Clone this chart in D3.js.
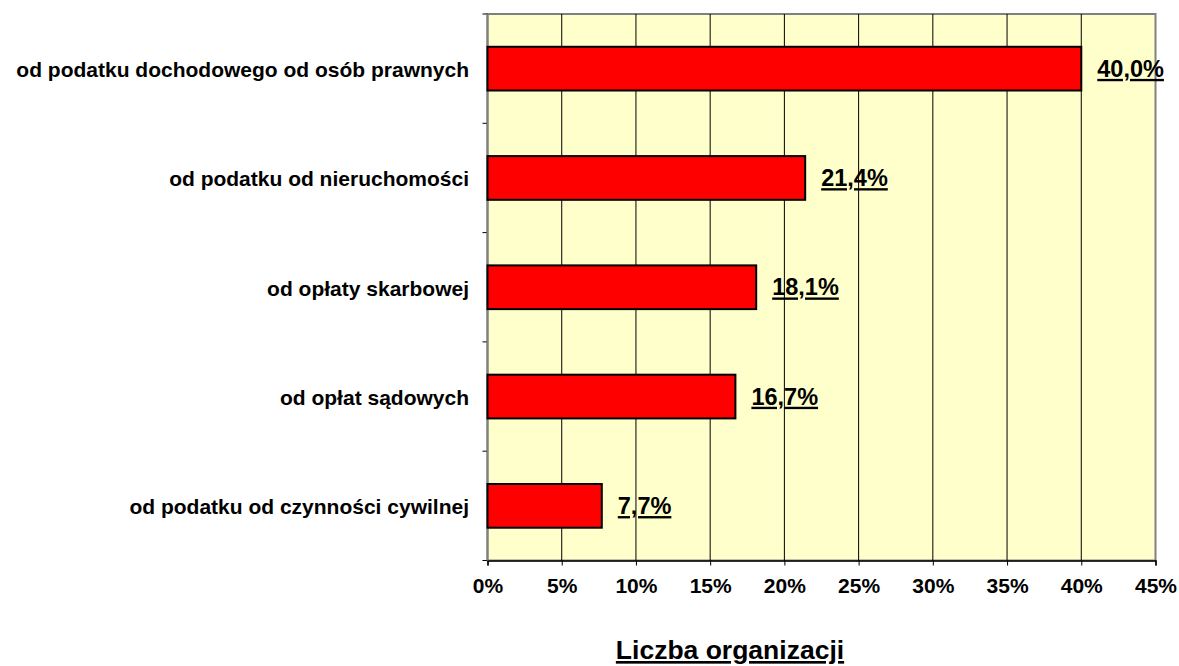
<!DOCTYPE html>
<html><head><meta charset="utf-8">
<script src="https://cdn.jsdelivr.net/npm/d3@7"></script>
<style>body{margin:0;background:#fff;} text{font-family:"Liberation Sans",Arial,sans-serif;font-weight:bold;}</style>
</head><body>
<svg id="c" width="1179" height="666"></svg>
<script>
const categories = ["od podatku dochodowego od osób prawnych","od podatku od nieruchomości","od opłaty skarbowej","od opłat sądowych","od podatku od czynności cywilnej"];
const values = [40.0, 21.4, 18.1, 16.7, 7.7];
const valueLabels = ["40,0%","21,4%","18,1%","16,7%","7,7%"];
const tickValues = [0,5,10,15,20,25,30,35,40,45];
const axisTitle = "Liczba organizacji";

const svg = d3.select("#c");
const L=487.5, R=1155.5, T=14, B=560.5;
const x = d3.scaleLinear().domain([0,45]).range([L,R]);
const y = d3.scaleBand().domain(categories).range([T,B]).paddingInner(0.6).paddingOuter(0.3);

svg.append("rect").attr("x",L).attr("y",T).attr("width",R-L).attr("height",B-T).attr("fill","#FFFFCC").attr("stroke","#808080").attr("stroke-width",2);

// gridlines
svg.append("g").selectAll("line").data(tickValues.slice(1,-1)).join("line")
  .attr("x1",d=>x(d)).attr("x2",d=>x(d)).attr("y1",T).attr("y2",B).attr("stroke","#000").attr("stroke-width",1);

// x axis
const xa = svg.append("g").attr("transform",`translate(0,${B})`)
  .call(d3.axisBottom(x).tickValues(tickValues).tickFormat(d=>d+"%").tickSizeOuter(0).tickSize(5));
xa.select(".domain").attr("stroke","#000").attr("stroke-width",1.5);
xa.selectAll(".tick line").attr("stroke","#000");
xa.selectAll("text").attr("y",32.5).attr("dy","0").attr("font-size",21).attr("font-family","Liberation Sans, Arial").attr("font-weight","bold").attr("fill","#000");

// y axis ticks at band boundaries
const bounds = d3.range(categories.length+1).map(i=>T+(B-T)*i/categories.length);
svg.append("g").selectAll("line").data(bounds).join("line")
  .attr("x1",L-5).attr("x2",L).attr("y1",d=>d).attr("y2",d=>d).attr("stroke","#000");
svg.append("line").attr("x1",L).attr("x2",L).attr("y1",T).attr("y2",B).attr("stroke","#808080").attr("stroke-width",2);

// bars
svg.append("g").selectAll("rect").data(values).join("rect")
  .attr("x",x(0)).attr("y",(d,i)=>y(categories[i])).attr("width",d=>x(d)-x(0)).attr("height",y.bandwidth())
  .attr("fill","#FF0000").attr("stroke","#000").attr("stroke-width",2);

// category labels
svg.append("g").selectAll("text").data(categories).join("text")
  .attr("x",469).attr("y",d=>y(d)+y.bandwidth()/2+1).attr("dy","0.35em").attr("text-anchor","end")
  .attr("font-size",21).attr("fill","#000").text(d=>d);

// value labels
svg.append("g").selectAll("text").data(values).join("text")
  .attr("x",d=>x(d)+16).attr("y",(d,i)=>y(categories[i])+y.bandwidth()/2).attr("dy","0.35em")
  .attr("font-size",23.5).attr("fill","#000").attr("text-decoration","underline").text((d,i)=>valueLabels[i]);

svg.append("text").attr("x",730).attr("y",659).attr("text-anchor","middle").attr("font-size",26.5)
  .attr("text-decoration","underline").attr("fill","#000").text(axisTitle);
</script>
</body></html>
